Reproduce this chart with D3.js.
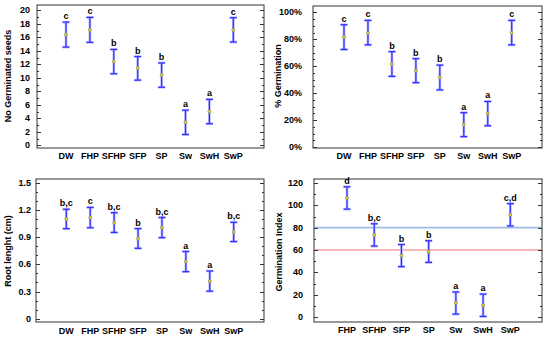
<!DOCTYPE html>
<html>
<head>
<meta charset="utf-8">
<script src="https://cdn.jsdelivr.net/npm/d3@7/dist/d3.min.js"></script>
<style>
  body { margin: 0; background: #fff; }
  svg { display: block; font-family: "Liberation Sans", Arial, sans-serif; font-weight: bold; }
</style>
</head>
<body>
<svg id="chart" width="550" height="339"></svg>
<script>
// categories
var cats8 = ["DW", "FHP", "SFHP", "SFP", "SP", "Sw", "SwH", "SwP"];
var cats7 = ["FHP", "SFHP", "SFP", "SP", "Sw", "SwH", "SwP"];

// No germinated seeds
var seedMean = [16.4, 17.1, 12.4, 11.4, 10.4, 3.4, 5.0, 17.1];
var seedErr  = [1.85, 1.85, 1.8, 1.75, 1.8, 1.8, 1.8, 1.8];
var seedLet  = ["c", "c", "b", "b", "b", "a", "a", "c"];

// % germination
var pctMean = [81.6, 84.9, 61.6, 56.7, 51.6, 16.6, 24.8, 84.9];
var pctErr  = [9.2, 9.1, 9.2, 8.9, 9.2, 8.9, 9.0, 9.1];
var pctLet  = ["c", "c", "b", "b", "b", "a", "a", "c"];

// root length
var rootMean = [1.10, 1.115, 1.06, 0.885, 1.005, 0.63, 0.415, 0.957];
var rootErr  = [0.107, 0.112, 0.109, 0.109, 0.111, 0.111, 0.111, 0.106];
var rootLet  = ["b,c", "c", "b,c", "b", "b,c", "a", "a", "b,c"];

// germination index
var giMean = [106.6, 73.5, 55.0, 58.6, 12.5, 10.5, 91.5];
var giErr  = [10.0, 10.0, 9.9, 9.7, 9.9, 10.0, 10.0];
var giLet  = ["d", "b,c", "b", "b", "a", "a", "c,d"];
var giRefLines = [80, 60];
var giRefColors = ["#9dbde6", "#f4a0a0"];

var svg = d3.select("#chart");

function panel(cfg) {
    var g = svg.append("g");
    var x = d3.scalePoint().domain(cfg.cats).range(cfg.xr);
    var y = d3.scaleLinear().domain(cfg.yd).range(cfg.yr);
    var b = cfg.box; // [left, top, right, bottom]

    // reference lines
    (cfg.refs || []).forEach(function (v, i) {
        g.append("line")
            .attr("x1", b[0]).attr("x2", b[2])
            .attr("y1", y(v)).attr("y2", y(v))
            .attr("stroke", cfg.refColors[i]).attr("stroke-width", 1.6);
    });

    // frame
    g.append("rect")
        .attr("x", b[0]).attr("y", b[1])
        .attr("width", b[2] - b[0]).attr("height", b[3] - b[1])
        .attr("fill", "none").attr("stroke", "#333").attr("stroke-width", 1);

    // ticks (inside, both sides)
    var minor = d3.range(cfg.yd[0], cfg.yd[1] + cfg.minorStep / 2, cfg.minorStep);
    minor.forEach(function (v) {
        var isMajor = cfg.ticks.some(function (t) { return Math.abs(t - v) < 1e-6; });
        var len = isMajor ? 4 : 2;
        var yy = Math.round(y(v)) + 0.5;
        g.append("line").attr("x1", b[0]).attr("x2", b[0] + len)
            .attr("y1", yy).attr("y2", yy).attr("stroke", "#333");
        g.append("line").attr("x1", b[2]).attr("x2", b[2] - len)
            .attr("y1", yy).attr("y2", yy).attr("stroke", "#333");
    });

    g.selectAll("text.ytick")
        .data(cfg.ticks)
        .enter().append("text")
        .attr("x", b[0] - cfg.labelGap)
        .attr("y", function (d) { return y(d); })
        .attr("dy", "0.35em")
        .attr("text-anchor", "end")
        .attr("font-size", 9)
        .text(cfg.fmt);

    g.selectAll("text.xtick")
        .data(cfg.cats)
        .enter().append("text")
        .attr("x", function (d) { return x(d); })
        .attr("y", cfg.xLabelY)
        .attr("text-anchor", "middle")
        .attr("font-size", 9)
        .text(function (d) { return d; });

    g.append("text")
        .attr("transform", "translate(" + cfg.titlePos[0] + "," + cfg.titlePos[1] + ") rotate(-90)")
        .attr("text-anchor", "middle")
        .attr("dy", "0.35em")
        .attr("font-size", 9)
        .text(cfg.title);

    var rows = cfg.cats.map(function (c, i) {
        return { cat: c, m: cfg.mean[i], e: cfg.err[i], l: cfg.letters[i] };
    });

    var bar = g.selectAll("g.bar").data(rows).enter().append("g").classed("bar", true);

    // soft halo then main stroke, like the blurry original
    [["#b4b4ff", 2.6], ["#3030ff", 1.2]].forEach(function (s) {
        bar.append("line")
            .attr("x1", function (d) { return x(d.cat); })
            .attr("x2", function (d) { return x(d.cat); })
            .attr("y1", function (d) { return y(d.m + d.e); })
            .attr("y2", function (d) { return y(d.m - d.e); })
            .attr("stroke", s[0]).attr("stroke-width", s[1]);
        [1, -1].forEach(function (sign) {
            bar.append("line")
                .attr("x1", function (d) { return x(d.cat) - 3.5; })
                .attr("x2", function (d) { return x(d.cat) + 3.5; })
                .attr("y1", function (d) { return y(d.m + sign * d.e); })
                .attr("y2", function (d) { return y(d.m + sign * d.e); })
                .attr("stroke", s[0]).attr("stroke-width", s[1]);
        });
    });

    bar.append("circle")
        .attr("cx", function (d) { return x(d.cat); })
        .attr("cy", function (d) { return y(d.m); })
        .attr("r", 1.5)
        .attr("fill", "#e0dc50")
        .attr("stroke", "#8c8a3a")
        .attr("stroke-width", 0.7);

    bar.append("text")
        .attr("x", function (d) { return x(d.cat); })
        .attr("y", function (d) { return y(d.m + d.e) - 3; })
        .attr("text-anchor", "middle")
        .attr("font-size", 9)
        .text(function (d) { return d.l; });
}

panel({
    cats: cats8, mean: seedMean, err: seedErr, letters: seedLet,
    box: [37, 5, 264, 148], xr: [66, 233.3], yd: [0, 20], yr: [145.3, 10.3],
    ticks: d3.range(0, 21, 2), minorStep: 1, fmt: function (d) { return d; },
    labelGap: 7, xLabelY: 159, title: "No Germinated seeds", titlePos: [8, 76]
});

panel({
    cats: cats8, mean: pctMean, err: pctErr, letters: pctLet,
    box: [313, 6, 542, 148], xr: [344, 511.7], yd: [0, 100], yr: [147, 12.3],
    ticks: d3.range(0, 101, 20), minorStep: 5, fmt: function (d) { return d + "%"; },
    labelGap: 11, xLabelY: 159, title: "% Germination", titlePos: [278, 76]
});

panel({
    cats: cats8, mean: rootMean, err: rootErr, letters: rootLet,
    box: [36, 179, 264, 322], xr: [66.3, 233.7], yd: [0, 1.5], yr: [318.7, 182.7],
    ticks: [0, 0.3, 0.6, 0.9, 1.2, 1.5], minorStep: 0.1,
    fmt: function (d) { return d === 0 ? "0" : d3.format(".1f")(d); },
    labelGap: 5, xLabelY: 334, title: "Root lenght (cm)", titlePos: [8, 251]
});

panel({
    cats: cats7, mean: giMean, err: giErr, letters: giLet,
    box: [314, 179, 542, 322], xr: [347, 510.3], yd: [0, 120], yr: [317, 183],
    ticks: d3.range(0, 121, 20), minorStep: 10, fmt: function (d) { return d; },
    labelGap: 11, xLabelY: 333, title: "Germination Index", titlePos: [279, 252],
    refs: giRefLines, refColors: giRefColors
});
</script>
</body>
</html>
